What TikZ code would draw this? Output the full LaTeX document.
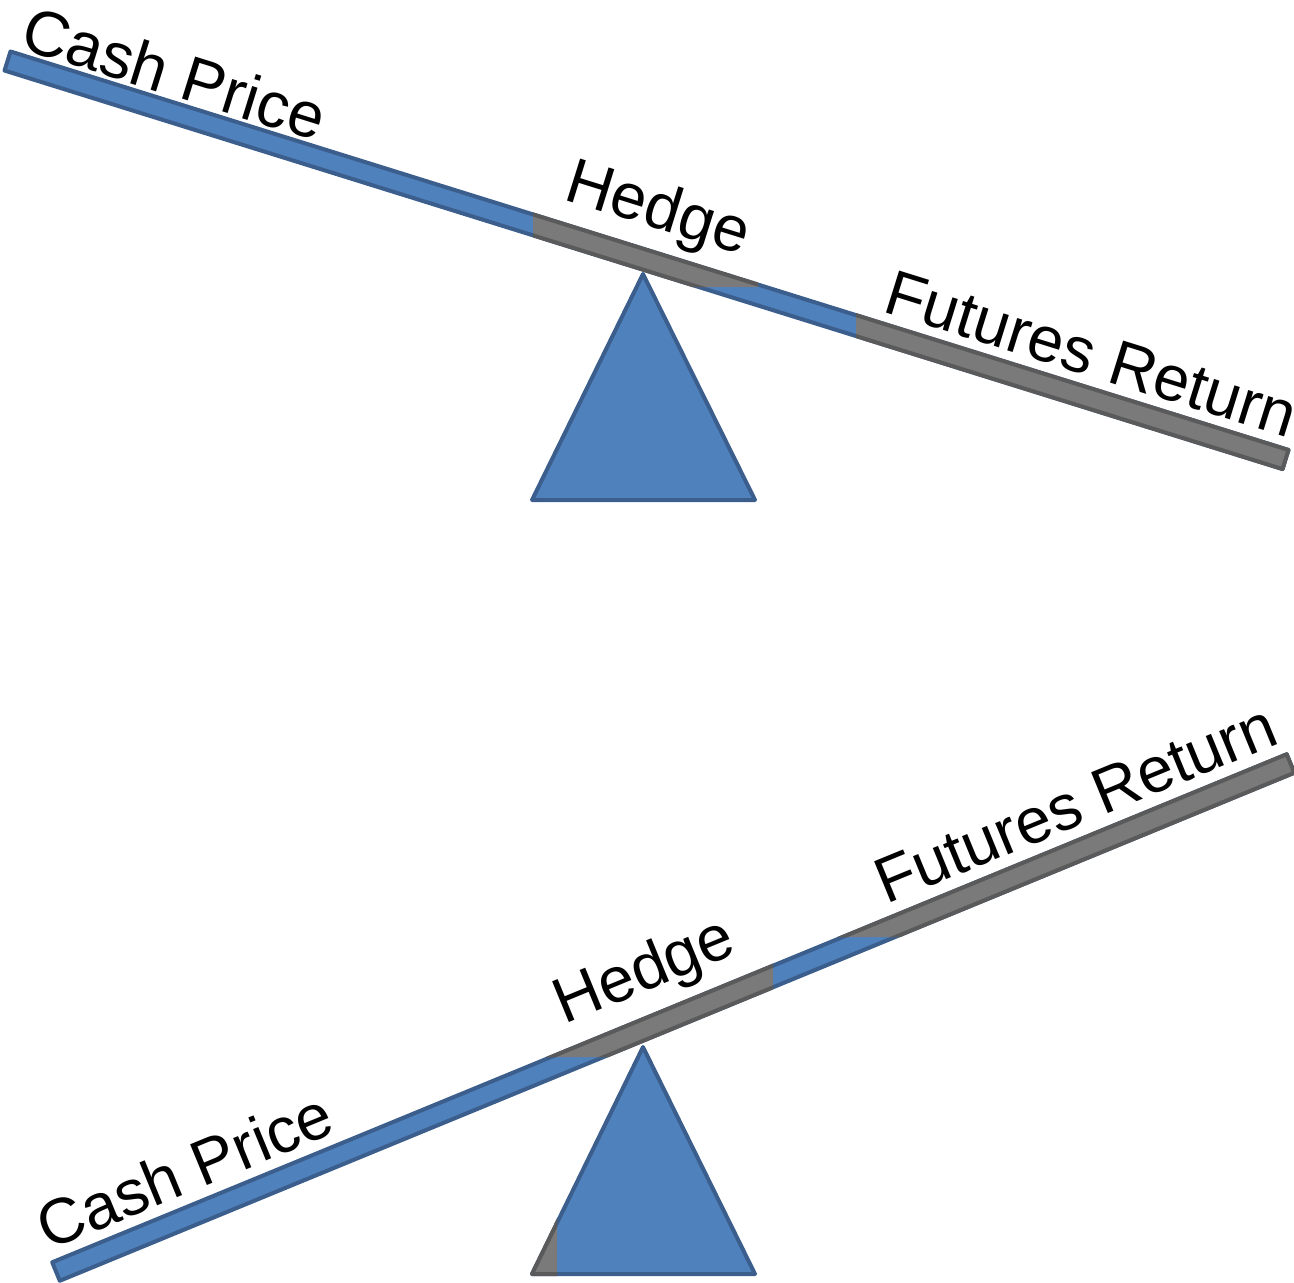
\documentclass[tikz,border=0pt]{standalone}
\usepackage{fontspec}
\setmainfont{Liberation Sans}
\usetikzlibrary{calc}
\definecolor{barblue}{HTML}{4F81BD}
\definecolor{barblueedge}{HTML}{3B5E8C}
\definecolor{bargray}{HTML}{7A7A7A}
\definecolor{bargrayedge}{HTML}{5A5A5A}
\begin{document}
\begin{tikzpicture}[x=0.5pt,y=-0.5pt,
  bluepart/.style={fill=barblue,draw=barblueedge,line width=2pt,line join=round},
  graypart/.style={fill=bargray,draw=bargrayedge,line width=2pt,line join=round},
  lbl/.style={inner sep=0pt,font=\fontsize{32}{38}\selectfont,text=black,anchor=base west}]
\useasboundingbox (0,0) rectangle (1294,1282);

% ---------- top seesaw ----------
\path[bluepart] (532,500) -- (643,274) -- (755,500) -- cycle;
\coordinate (TA) at (7.5,61);
\coordinate (TB) at (1285.5,459.5);
\coordinate (TA1) at ($(TA)!5pt!90:(TB)$);
\coordinate (TA2) at ($(TA)!5pt!-90:(TB)$);
\coordinate (TB1) at ($(TB)!5pt!-90:(TA)$);
\coordinate (TB2) at ($(TB)!5pt!90:(TA)$);
\path[bluepart] (TA1) -- (TB1) -- (TB2) -- (TA2) -- cycle;
\begin{scope}
  \clip (533,0) rectangle (758,287) (856,0) rectangle (1294,700);
  \path[graypart] (TA1) -- (TB1) -- (TB2) -- (TA2) -- cycle;
\end{scope}
\node[lbl,rotate=-17.34] (tcash) at (18,48) {Cash Price};
\node[lbl,rotate=-17.34] (thedge) at (562,199) {Hedge};
\node[lbl,rotate=-17.34] (tfut) at (881,311) {Futures Return};

% ---------- bottom seesaw ----------
\path[bluepart] (532,1274) -- (643,1047) -- (755,1274) -- cycle;
\begin{scope}
  \clip (0,0) rectangle (557,1300);
  \path[graypart] (532,1274) -- (643,1047) -- (755,1274) -- cycle;
\end{scope}
\coordinate (BA) at (56,1271.5);
\coordinate (BB) at (1290.5,763.5);
\coordinate (BA1) at ($(BA)!5pt!90:(BB)$);
\coordinate (BA2) at ($(BA)!5pt!-90:(BB)$);
\coordinate (BB1) at ($(BB)!5pt!-90:(BA)$);
\coordinate (BB2) at ($(BB)!5pt!90:(BA)$);
\path[bluepart] (BA1) -- (BB1) -- (BB2) -- (BA2) -- cycle;
\begin{scope}
  \clip (0,0) rectangle (773,1057) (773,0) rectangle (1300,937);
  \path[graypart] (BA1) -- (BB1) -- (BB2) -- (BA2) -- cycle;
\end{scope}
\node[lbl,rotate=22.37] (bcash) at (48,1251) {Cash Price};
\node[lbl,rotate=22.37] (bhedge) at (564,1025) {Hedge};
\node[lbl,rotate=22.37] (bfut) at (886,905) {Futures Return};
\end{tikzpicture}
\end{document}
